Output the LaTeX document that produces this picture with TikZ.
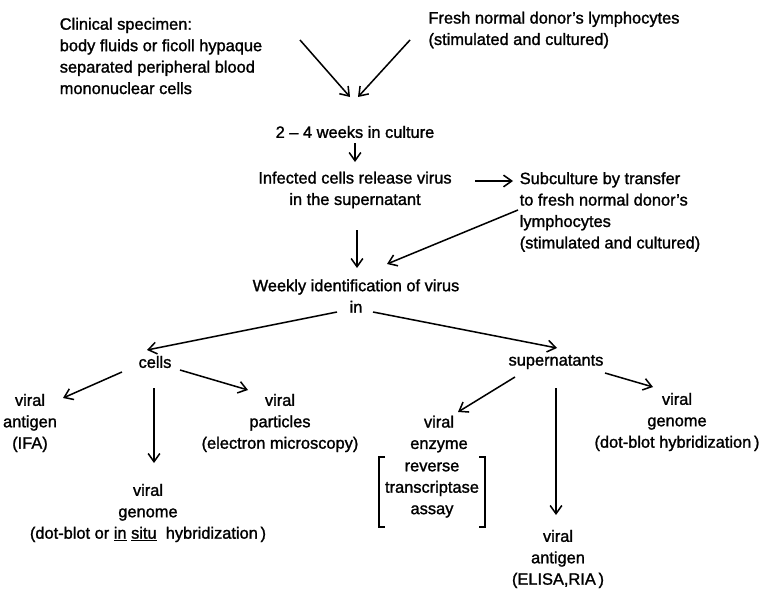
\documentclass[tikz,border=0pt]{standalone}
\usepackage{fontspec}
\setmainfont[FakeBold=1.4]{Liberation Sans}
\usetikzlibrary{arrows.meta}

\tikzset{
  lbl/.style={align=center, inner sep=0pt, font=\fontsize{14}{18.3}\selectfont},
  lbll/.style={lbl, align=left},
  arr/.style={line width=1.3pt, -{Straight Barb[length=7pt,width=10pt,line width=1.3pt]}}
}

\begin{document}
\begin{tikzpicture}[x=0.03cm, y=-0.03cm]

\useasboundingbox (0,0) rectangle (759,591);

\node[lbll] (clin) at (161,56) {Clinical specimen:\\body fluids or ficoll hypaque\\separated peripheral blood\\mononuclear cells};
\node[lbll] (fresh) at (554,30) {Fresh normal donor's lymphocytes\\(stimulated and cultured)};
\node[lbl] (weeks) at (355,132) {2\;--\;4 weeks in culture};
\node[lbl] (infected) at (355,190) {Infected cells release virus\\in the supernatant};
\node[lbll] (subc) at (610,212) {Subculture by transfer\\to fresh normal donor's\\lymphocytes\\(stimulated and cultured)};
\node[lbl] (weekly) at (356,296) {Weekly identification of virus\\in};
\node[lbl] (cells) at (155,362) {cells};
\node[lbl] (supern) at (556,362) {supernatants};
\node[lbl] (vantigen) at (30,423) {viral\\antigen\\(IFA)};
\node[lbl] (vpart) at (280,423) {viral\\particles\\(electron microscopy)};
\node[lbl] (vgenome) at (148,513) {viral\\genome\\(dot-blot or \underline{in} \underline{situ}\ \ hybridization\,)};
\node[lbl] (venzyme) at (439,434) {viral\\enzyme};
\node[lbl] (rtassay) at (432,490) {reverse\\transcriptase\\assay};
\node[lbl] (santigen) at (558,559) {viral\\antigen\\(ELISA,RIA\,)};
\node[lbl] (sgenome) at (677,422) {viral\\genome\\(dot-blot hybridization\,)};

\draw[arr] ([shift={(139,-16)}]clin.center) -- ([shift={(-5,-35)}]weeks.center);
\draw[arr] ([shift={(-144,10)}]fresh.center) -- ([shift={(3,-35)}]weeks.center);
\draw[arr] ([shift={(0,11)}]weeks.center) -- ([shift={(0,-28)}]infected.center);
\draw[arr] ([shift={(120,-9)}]infected.center) -- ([shift={(-97,-31)}]subc.center);
\draw[arr] ([shift={(2,40)}]infected.center) -- ([shift={(1,-28)}]weekly.center);
\draw[arr] ([shift={(-92,-2)}]subc.center) -- ([shift={(31,-32)}]weekly.center);
\draw[arr] ([shift={(-19,16)}]weekly.center) -- ([shift={(-8,-12)}]cells.center);
\draw[arr] ([shift={(17,16)}]weekly.center) -- ([shift={(1,-14)}]supern.center);
\draw[arr] ([shift={(-33,10)}]cells.center) -- ([shift={(33,-25)}]vantigen.center);
\draw[arr] ([shift={(-1,26)}]cells.center) -- ([shift={(6,-50)}]vgenome.center);
\draw[arr] ([shift={(25,8)}]cells.center) -- ([shift={(-32,-33)}]vpart.center);
\draw[arr] ([shift={(-41,15)}]supern.center) -- ([shift={(19,-22)}]venzyme.center);
\draw[arr] ([shift={(0,26)}]supern.center) -- ([shift={(-2,-44)}]santigen.center);
\draw[arr] ([shift={(49,11)}]supern.center) -- ([shift={(-24,-35)}]sgenome.center);

\draw[line width=1pt] ([shift={(-47,-33)}]rtassay.center) -- ++(-6,0) -- ++(0,70) -- ++(6,0);
\draw[line width=1pt] ([shift={(47,-33)}]rtassay.center) -- ++(6,0) -- ++(0,70) -- ++(-6,0);

\end{tikzpicture}
\end{document}
